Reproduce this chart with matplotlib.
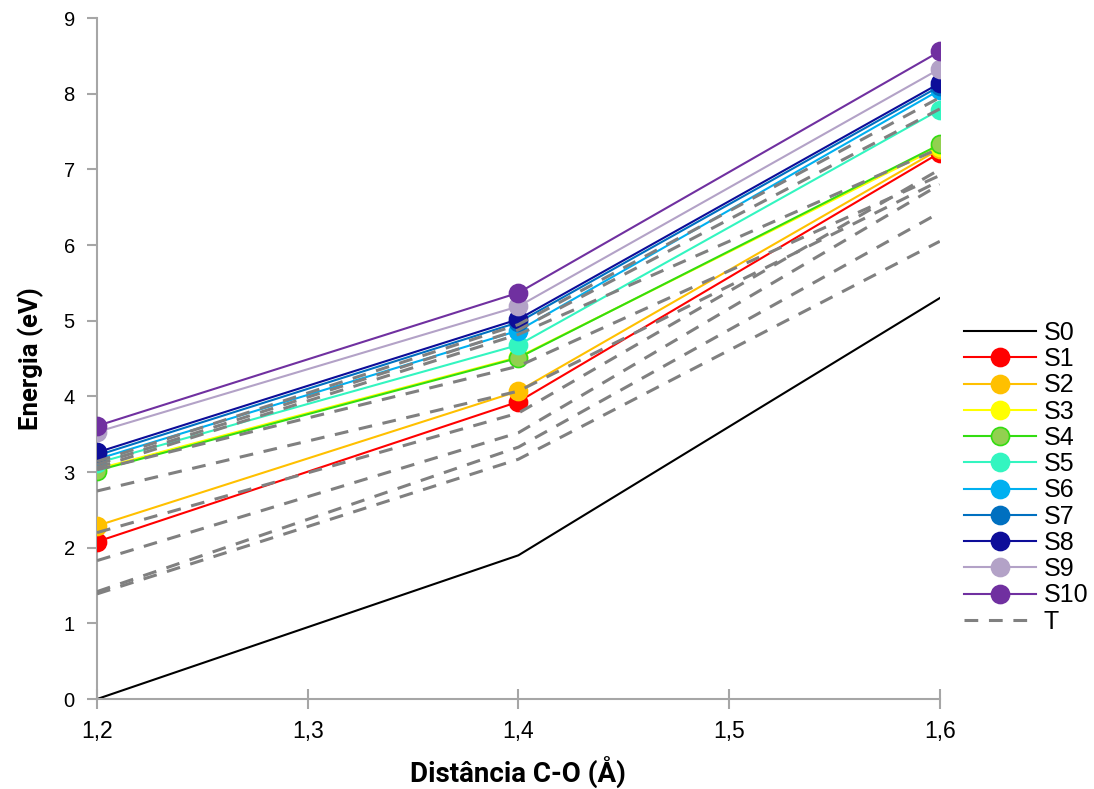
import matplotlib
matplotlib.use("Agg")
import matplotlib.pyplot as plt

x = [1.2, 1.4, 1.6]

S0 = [0.0, 1.90, 5.30]
S1 = [2.08, 3.93, 7.22]
S2 = [2.29, 4.07, 7.27]
S3 = [3.04, 4.52, 7.30]
S4 = [3.02, 4.51, 7.33]
S5 = [3.12, 4.68, 7.79]
S6 = [3.17, 4.87, 8.05]
S7 = [3.22, 4.98, 8.10]
S8 = [3.26, 5.02, 8.14]
S9 = [3.53, 5.19, 8.33]
S10 = [3.61, 5.37, 8.56]

T1 = [1.39, 3.17, 6.05]
T2 = [1.42, 3.33, 6.43]
T3 = [1.83, 3.52, 6.80]
T4 = [2.20, 3.78, 7.00]
T5 = [2.75, 4.07, 6.85]
T6 = [3.03, 4.40, 6.92]
T7 = [3.06, 4.82, 7.28]
T8 = [3.10, 4.88, 7.80]
T9 = [3.14, 4.95, 7.95]

singlets = [S1, S2, S3, S4, S5, S6, S7, S8, S9, S10]
singlet_names = ["S1", "S2", "S3", "S4", "S5", "S6", "S7", "S8", "S9", "S10"]
triplets = [T1, T2, T3, T4, T5, T6, T7, T8, T9]

line_colors = ["#FF0000", "#FFC000", "#FFFF00", "#33DD11", "#33F5C0", "#00B0F0",
               "#0070C0", "#0D0D99", "#B3A2C7", "#7030A0"]
face_colors = ["#FF0000", "#FFC000", "#FFFF00", "#92D050", "#33F5C0", "#00B0F0",
               "#0070C0", "#0D0D99", "#B3A2C7", "#7030A0"]

xticks = [1.2, 1.3, 1.4, 1.5, 1.6]
xticklabels = ["1,2", "1,3", "1,4", "1,5", "1,6"]
yticks = list(range(0, 10))

plt.rcParams['font.family'] = ['Liberation Sans', 'DejaVu Sans']

fig = plt.figure(figsize=(10.94, 7.89), dpi=100)
ax = fig.add_axes([0.0887, 0.114, 0.859 - 0.0887, 0.977 - 0.114])

ax.plot(x, S0, color="black", lw=1.5, label="S0", zorder=2)
for vals, name, lc, fc in zip(singlets, singlet_names, line_colors, face_colors):
    ax.plot(x, vals, color=lc, lw=1.5, marker="o", markersize=13,
            markerfacecolor=fc, markeredgecolor=lc, markeredgewidth=1.2,
            label=name, zorder=3)
for i, vals in enumerate(triplets):
    ax.plot(x, vals, color="#808080", lw=2.2, ls=(0, (4.5, 3.5)),
            label="T" if i == 0 else "_nolegend_", zorder=4)

ax.set_xlim(1.2, 1.6)
ax.set_ylim(0, 9)
ax.set_xticks(xticks)
ax.set_xticklabels(xticklabels, fontsize=16.5)
ax.set_yticks(yticks)
ax.set_yticklabels([str(v) for v in yticks], fontsize=14.5)

for s in ["top", "right"]:
    ax.spines[s].set_visible(False)
for s in ["left", "bottom"]:
    ax.spines[s].set_color("#A6A6A6")
    ax.spines[s].set_linewidth(1.5)
ax.tick_params(axis="x", direction="inout", length=14, width=1.5, color="#A6A6A6", pad=8)
ax.tick_params(axis="y", direction="out", length=7, width=1.5, color="#A6A6A6", pad=9)

ax.set_xlabel("Distância C-O (Å)", fontsize=20, fontweight="bold",
              family=["Roboto", "DejaVu Sans"], labelpad=10)
ax.set_ylabel("Energia (eV)", fontsize=18.5, fontweight="bold",
              family=["Roboto", "DejaVu Sans"], labelpad=14)

leg = fig.legend(loc="center left", bbox_to_anchor=(0.872, 0.395), frameon=False,
                 fontsize=18, handlelength=2.9, handletextpad=0.3,
                 labelspacing=0.09, borderaxespad=0)

fig.savefig("out.png", dpi=100)
